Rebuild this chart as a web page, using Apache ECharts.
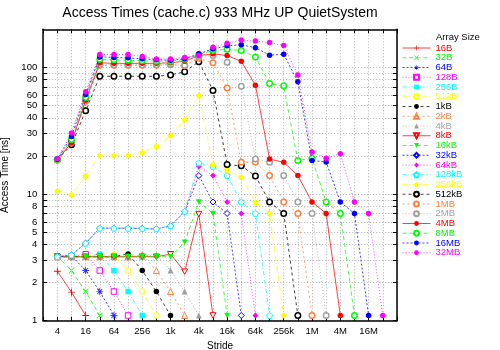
<!DOCTYPE html>
<html><head><meta charset="utf-8">
<script src="https://cdn.jsdelivr.net/npm/echarts@6/dist/echarts.min.js"></script>
<style>html,body{margin:0;padding:0;background:#fff}#c{width:500px;height:350px}</style>
</head><body><div id="c"></div>
<script>
// Strides (bytes) on the x axis
const strides = [4, 8, 16, 32, 64, 128, 256, 512, 1024, 2048, 4096, 8192, 16384, 32768, 65536,
  131072, 262144, 524288, 1048576, 2097152, 4194304, 8388608, 16777216, 33554432];
const seriesNames = ['16B','32B','64B','128B','256B','512B','1kB','2kB','4kB','8kB','16kB','32kB',
  '64kB','128kB','256kB','512kB','1MB','2MB','4MB','8MB','16MB','32MB'];
// Access times [ns], one array per array size, starting at stride 4
const t16B  = [2.46, 1.68, 1.1];
const t32B  = [3.25, 2.49, 1.7, 1.1];
const t64B  = [3.2, 3.25, 2.49, 1.7, 1.1];
const t128B = [3.2, 3.2, 3.35, 2.49, 1.7, 1.1];
const t256B = [3.2, 3.2, 3.2, 3.35, 2.49, 1.7, 1.1];
const t512B = [3.2, 3.2, 3.2, 3.2, 3.3, 2.49, 1.7, 1.1];
const t1kB  = [3.2, 3.2, 3.2, 3.2, 3.2, 3.37, 2.49, 1.7, 1.1];
const t2kB  = [3.2, 3.2, 3.2, 3.2, 3.2, 3.2, 3.3, 2.49, 1.7, 1.1];
const t4kB  = [3.2, 3.2, 3.2, 3.2, 3.2, 3.2, 3.2, 3.3, 2.49, 1.7, 1.1];
const t8kB  = [3.2, 3.2, 3.2, 3.2, 3.2, 3.2, 3.2, 3.2, 3.35, 2.44, 6.95, 1.1];
const t16kB = [3.2, 3.2, 3.2, 3.2, 3.2, 3.2, 3.2, 3.2, 3.2, 4.17, 8.66, 7.03, 1.1];
const t32kB = [3.2, 3.3, 4.09, 5.38, 5.38, 5.38, 5.35, 5.3, 5.6, 7.28, 14.0, 8.65, 7.03, 1.1];
const t64kB = [3.2, 3.3, 4.09, 5.38, 5.38, 5.38, 5.35, 5.3, 5.6, 7.3, 16.5, 14.0, 8.65, 7.03, 1.1];
const t128kB = [3.2, 3.3, 4.09, 5.38, 5.38, 5.38, 5.35, 5.3, 5.6, 7.3, 17.6, 16.5, 14.0, 8.65, 7.03, 1.1];
const t256kB = [10.6, 9.9, 13.9, 20.2, 20.2, 20.2, 21.3, 23.8, 29.0, 38.7, 60.2, 17.1, 15.5, 13.6, 8.65, 7.03, 1.1];
const t512kB = [18.7, 24.5, 45.5, 85.2, 85.2, 85.2, 85.2, 85.2, 87.3, 92.3, 111, 65.8, 17.1, 16.7, 13.9, 8.65, 7.03, 1.1];
const t1MB  = [18.6, 25.5, 54, 104, 104, 104, 104, 104, 105, 103, 118, 108.8, 68.8, 17.8, 17.8, 14.0, 8.65, 7.03, 1.1];
const t2MB  = [18.6, 25.8, 55, 105, 105, 105, 105, 105, 106, 104, 122, 124, 110, 71, 18.9, 17.8, 14.0, 8.65, 7.03, 1.1];
const t4MB  = [18.7, 25.4, 55, 108.8, 107.7, 107.7, 107.7, 107.7, 108.8, 112, 124, 128, 124, 112, 72.4, 18.9, 17.8, 14.0, 8.65, 7.03, 1.1];
const t8MB  = [18.8, 27, 58, 116, 115, 114, 113, 112, 112, 116, 126, 136, 139, 136, 121, 74.5, 71.5, 18.4, 19.2, 8.65, 7.03, 1.1];
const t16MB = [18.8, 28.5, 61, 121, 120, 119, 117, 115, 114, 117, 128, 140, 148, 151, 143, 125, 127, 77.1, 18.4, 17.9, 8.65, 7.03, 1.1];
const t32MB = [19, 30.3, 64.2, 126.5, 126.5, 126.5, 122, 116.6, 116.6, 120, 124, 144, 155, 164.5, 161.6, 157, 149, 87, 21.5, 19.2, 20.8, 8.65, 7.03, 1.1];
const allTimes = [t16B,t32B,t64B,t128B,t256B,t512B,t1kB,t2kB,t4kB,t8kB,t16kB,t32kB,t64kB,t128kB,
  t256kB,t512kB,t1MB,t2MB,t4MB,t8MB,t16MB,t32MB];
// Axis ticks / labels
const xTickValues = [2,4,8,16,32,64,128,256,512,1024,2048,4096,8192,16384,32768,65536,131072,262144,
  524288,1048576,2097152,4194304,8388608,16777216,33554432,67108864];
const xLabelValues = [4,16,64,256,1024,4096,16384,65536,262144,1048576,4194304,16777216];
const yTickValues = [1,2,3,4,5,6,7,8,9,10,20,30,40,50,60,70,80,90,100];
const yLabelValues = [1,2,3,4,5,6,8,10,20,30,40,50,60,80,100];

const colors = ['#ff0000','#00ff00','#0000ff','#ff00ff','#00ffff','#ffff00','#000000','#ff8040','#a0a0a0'];
const dashes = ['solid',[4,3],[2,2],[1,2],[4,2,1,2],[5,2,1,2],[3,3],[2,3],[1,2]];
const PLUS = 'path://M-0.13,-1H0.13V1H-0.13Z M-1,-0.13H1V0.13H-1Z';
const CROSS = 'path://M-1,-0.82L-0.82,-1L1,0.82L0.82,1Z M1,-0.82L0.82,-1L-1,0.82L-0.82,1Z';
const STAR = 'path://M-0.1,-1H0.1V1H-0.1Z M-1,-0.1H1V0.1H-1Z M-0.78,-0.64L-0.64,-0.78L0.78,0.64L0.64,0.78Z M0.78,-0.64L0.64,-0.78L-0.78,0.64L-0.64,0.78Z';
const DTRI = 'path://M-1,-0.9L1,-0.9L0,0.9Z';
const PENT = 'path://M0,-1L0.951,-0.309L0.588,0.809L-0.588,0.809L-0.951,-0.309Z';
// [symbol, open(hollow), size, borderWidth]
const marks = [
  [PLUS,false,7,0],[CROSS,false,6,0],[STAR,false,7,0],['rect',true,5.5,1],['rect',false,5.5,0],
  ['circle',true,5.5,1],['circle',false,5.5,0],['triangle',true,6,1],['triangle',false,6,0],
  [DTRI,true,6,1],[DTRI,false,6,0],['diamond',true,6,1],['diamond',false,6,0],
  [PENT,true,6,1],[PENT,false,6,0],['circle',true,5.5,1.5],['circle',true,5.5,1.5],['circle',true,5.5,1.5],
  ['circle',false,5.5,0],['circle',true,5.5,1.5],['circle',false,5.5,0],['circle',false,5.5,0]
];
const fmtStride = v => v >= 1048576 ? (v/1048576)+'M' : v >= 1024 ? (v/1024)+'k' : String(v);

const series = seriesNames.map((name, i) => {
  const c = colors[i % 9];
  const m = marks[i];
  return {
    name, type: 'line', xAxisIndex: 0, yAxisIndex: 0,
    data: allTimes[i].map((v, j) => [strides[j], v]),
    symbol: m[0], symbolSize: m[2], symbolKeepAspect: true,
    showSymbol: true,
    lineStyle: { color: c, width: 1, type: dashes[i % 9], opacity: 0.75 },
    itemStyle: m[1] ? { color: '#ffffff', borderColor: c, borderWidth: m[3] } : { color: c, borderWidth: 0 },
    emphasis: { disabled: true },
    z: 2 + i
  };
});

const font = 'Liberation Sans, Arial, Helvetica, sans-serif';
const chart = echarts.init(document.getElementById('c'), null, { renderer: 'canvas' });
chart.setOption({
  animation: false,
  backgroundColor: '#ffffff',
  textStyle: { fontFamily: font },
  title: [
    { text: 'Access Times (cache.c) 933 MHz UP QuietSystem', left: 220, top: 6, textAlign: 'center', padding: 0,
      textStyle: { fontSize: 14, fontWeight: 'normal', color: '#000', fontFamily: font } },
    { text: 'Array Size', left: 436, top: 32, padding: 0,
      textStyle: { fontSize: 9.5, fontWeight: 'normal', color: '#000', fontFamily: font } }
  ],
  grid: { left: 43.2, right: 103.1, top: 29.3, bottom: 29.3, containLabel: false, outerBoundsMode: 'none' },
  legend: {
    orient: 'vertical', left: 402, top: 43, padding: 0,
    itemWidth: 28, itemHeight: 6, itemGap: -0.25, selectedMode: false,
    lineStyle: { width: 1 },
    textStyle: { fontSize: 9.5, fontFamily: font, padding: 0 },
    data: seriesNames.map((n, i) => ({ name: n, textStyle: { color: colors[i % 9] } }))
  },
  xAxis: [
    { type: 'log', logBase: 2, min: 2, max: 67108864, position: 'bottom',
      name: 'Stride', nameLocation: 'middle', nameGap: 19,
      nameTextStyle: { fontSize: 10, color: '#000', fontFamily: font },
      axisLine: { onZero: false, lineStyle: { color: '#000', width: 1.5 } },
      axisTick: { inside: true, length: 4, customValues: xTickValues, lineStyle: { color: '#000' } },
      axisLabel: { customValues: xLabelValues, formatter: fmtStride, fontSize: 9.5, color: '#000', margin: 6 },
      splitLine: { show: true, lineStyle: { color: '#b0b0b0', type: [1,2], width: 1 } },
      minorTick: { show: false }, minorSplitLine: { show: false } },
    { type: 'log', logBase: 2, min: 2, max: 67108864, position: 'top',
      axisLine: { onZero: false, lineStyle: { color: '#000', width: 1.5 } },
      axisTick: { inside: true, length: 4, customValues: xTickValues, lineStyle: { color: '#000' } },
      axisLabel: { show: false }, splitLine: { show: false } }
  ],
  yAxis: [
    { type: 'log', logBase: 10, min: 1, max: 200, position: 'left',
      name: 'Access Time [ns]', nameLocation: 'middle', nameGap: 25,
      nameTextStyle: { fontSize: 10, color: '#000', fontFamily: font },
      axisLine: { onZero: false, lineStyle: { color: '#000', width: 1.5 } },
      axisTick: { inside: true, length: 4, customValues: yTickValues, lineStyle: { color: '#000' } },
      axisLabel: { customValues: yLabelValues, fontSize: 9.5, color: '#000', margin: 6 },
      splitLine: { show: true, lineStyle: { color: '#b0b0b0', type: [1,2], width: 1 } },
      minorTick: { show: false }, minorSplitLine: { show: false } },
    { type: 'log', logBase: 10, min: 1, max: 200, position: 'right',
      axisLine: { onZero: false, lineStyle: { color: '#000', width: 1.5 } },
      axisTick: { inside: true, length: 4, customValues: yTickValues, lineStyle: { color: '#000' } },
      axisLabel: { show: false }, splitLine: { show: false } }
  ],
  series
});
</script></body></html>
